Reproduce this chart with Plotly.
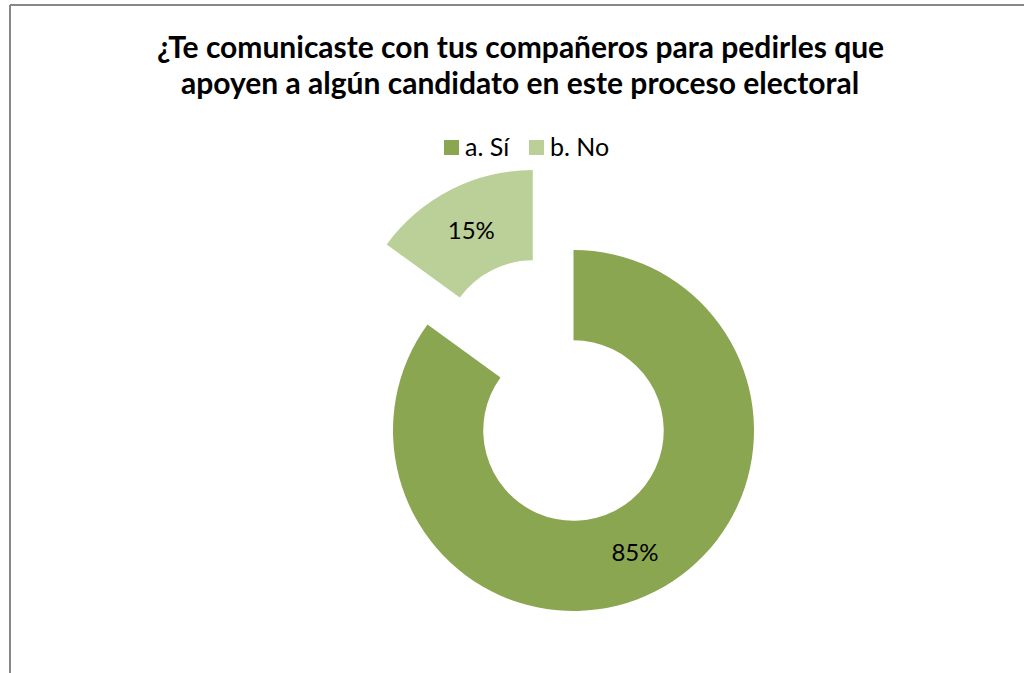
import math
import plotly.graph_objects as go

# Survey answers
labels = ["a. Sí", "b. No"]
values = [85, 15]
colors = ["#8AA650", "#BBCF98"]
exploded = "b. No"          # slice pulled away from the ring
explode_frac = 0.497        # pull distance as a fraction of the outer radius

title_lines = [
    "¿Te comunicaste con tus compañeros para pedirles que",
    "apoyen a algún candidato en este proceso electoral",
]

W, H = 1024, 673
FONT = "Lato"
CX, CY, R = 573.5, 430.5, 180.5   # ring centre (px from top-left) and outer radius
HOLE = 0.5
TRANSPARENT = "rgba(0,0,0,0)"


def px_x(x):
    return x / W


def px_y(y):
    return 1 - y / H


def domain(cx, cy, r):
    return dict(x=[px_x(cx - r), px_x(cx + r)], y=[px_y(cy + r), px_y(cy - r)])


# Offset of the exploded slice along its bisector (clockwise from 12 o'clock)
total = sum(values)
idx = labels.index(exploded)
start_deg = sum(values[:idx]) / total * 360
mid = math.radians(start_deg + values[idx] / total * 180)
dx = explode_frac * R * math.sin(mid)
dy = -explode_frac * R * math.cos(mid)

pct_text = [f"{v}%" for v in values]


def ring(show_exploded, cx, cy):
    keep = [(l == exploded) == show_exploded for l in labels]
    return go.Pie(
        labels=labels,
        values=values,
        sort=False,
        direction="clockwise",
        rotation=0,
        hole=HOLE,
        domain=domain(cx, cy, R),
        marker=dict(colors=[c if k else TRANSPARENT for c, k in zip(colors, keep)],
                    line=dict(width=0)),
        text=[t if k else "" for t, k in zip(pct_text, keep)],
        textinfo="text",
        textposition="inside",
        insidetextorientation="horizontal",
        textfont=dict(family=FONT, size=24, color="#000000"),
        hoverinfo="label+percent",
        showlegend=False,
    )


fig = go.Figure()
fig.add_trace(ring(False, CX, CY))
fig.add_trace(ring(True, CX + dx, CY + dy))

# Legend row: colour swatch followed by its label
LEG_Y, SW = 147.5, 15
legend_x = [444, 529]       # left edge of each swatch
for l, c, x in zip(labels, colors, legend_x):
    fig.add_shape(type="rect", xref="paper", yref="paper",
                  x0=px_x(x), x1=px_x(x + SW),
                  y0=px_y(LEG_Y + SW / 2), y1=px_y(LEG_Y - SW / 2),
                  fillcolor=c, line=dict(width=0))
    fig.add_annotation(text=l, xref="paper", yref="paper",
                       x=px_x(x + SW + 4), y=px_y(LEG_Y - 1.5),
                       xanchor="left", yanchor="middle", showarrow=False,
                       font=dict(family=FONT, size=25, color="#000000"))

# Two-line bold title, one annotation per line for tighter leading
for i, line in enumerate(title_lines):
    fig.add_annotation(
        text=f"<b>{line}</b>",
        xref="paper", yref="paper", x=px_x(520), y=px_y(46.5 + 35 * i),
        xanchor="center", yanchor="middle", showarrow=False,
        font=dict(family=FONT, size=30, color="#000000"),
    )

# Chart frame
frame = dict(color="#878787", width=2)
fig.add_shape(type="line", xref="paper", yref="paper",
              x0=px_x(10), x1=1.0, y0=px_y(5), y1=px_y(5), line=frame)
fig.add_shape(type="line", xref="paper", yref="paper",
              x0=px_x(10), x1=px_x(10), y0=0, y1=px_y(5), line=frame)

fig.update_layout(
    width=W, height=H,
    margin=dict(l=0, r=0, t=0, b=0),
    paper_bgcolor="white",
    showlegend=False,
)

fig.write_html("out.html")
